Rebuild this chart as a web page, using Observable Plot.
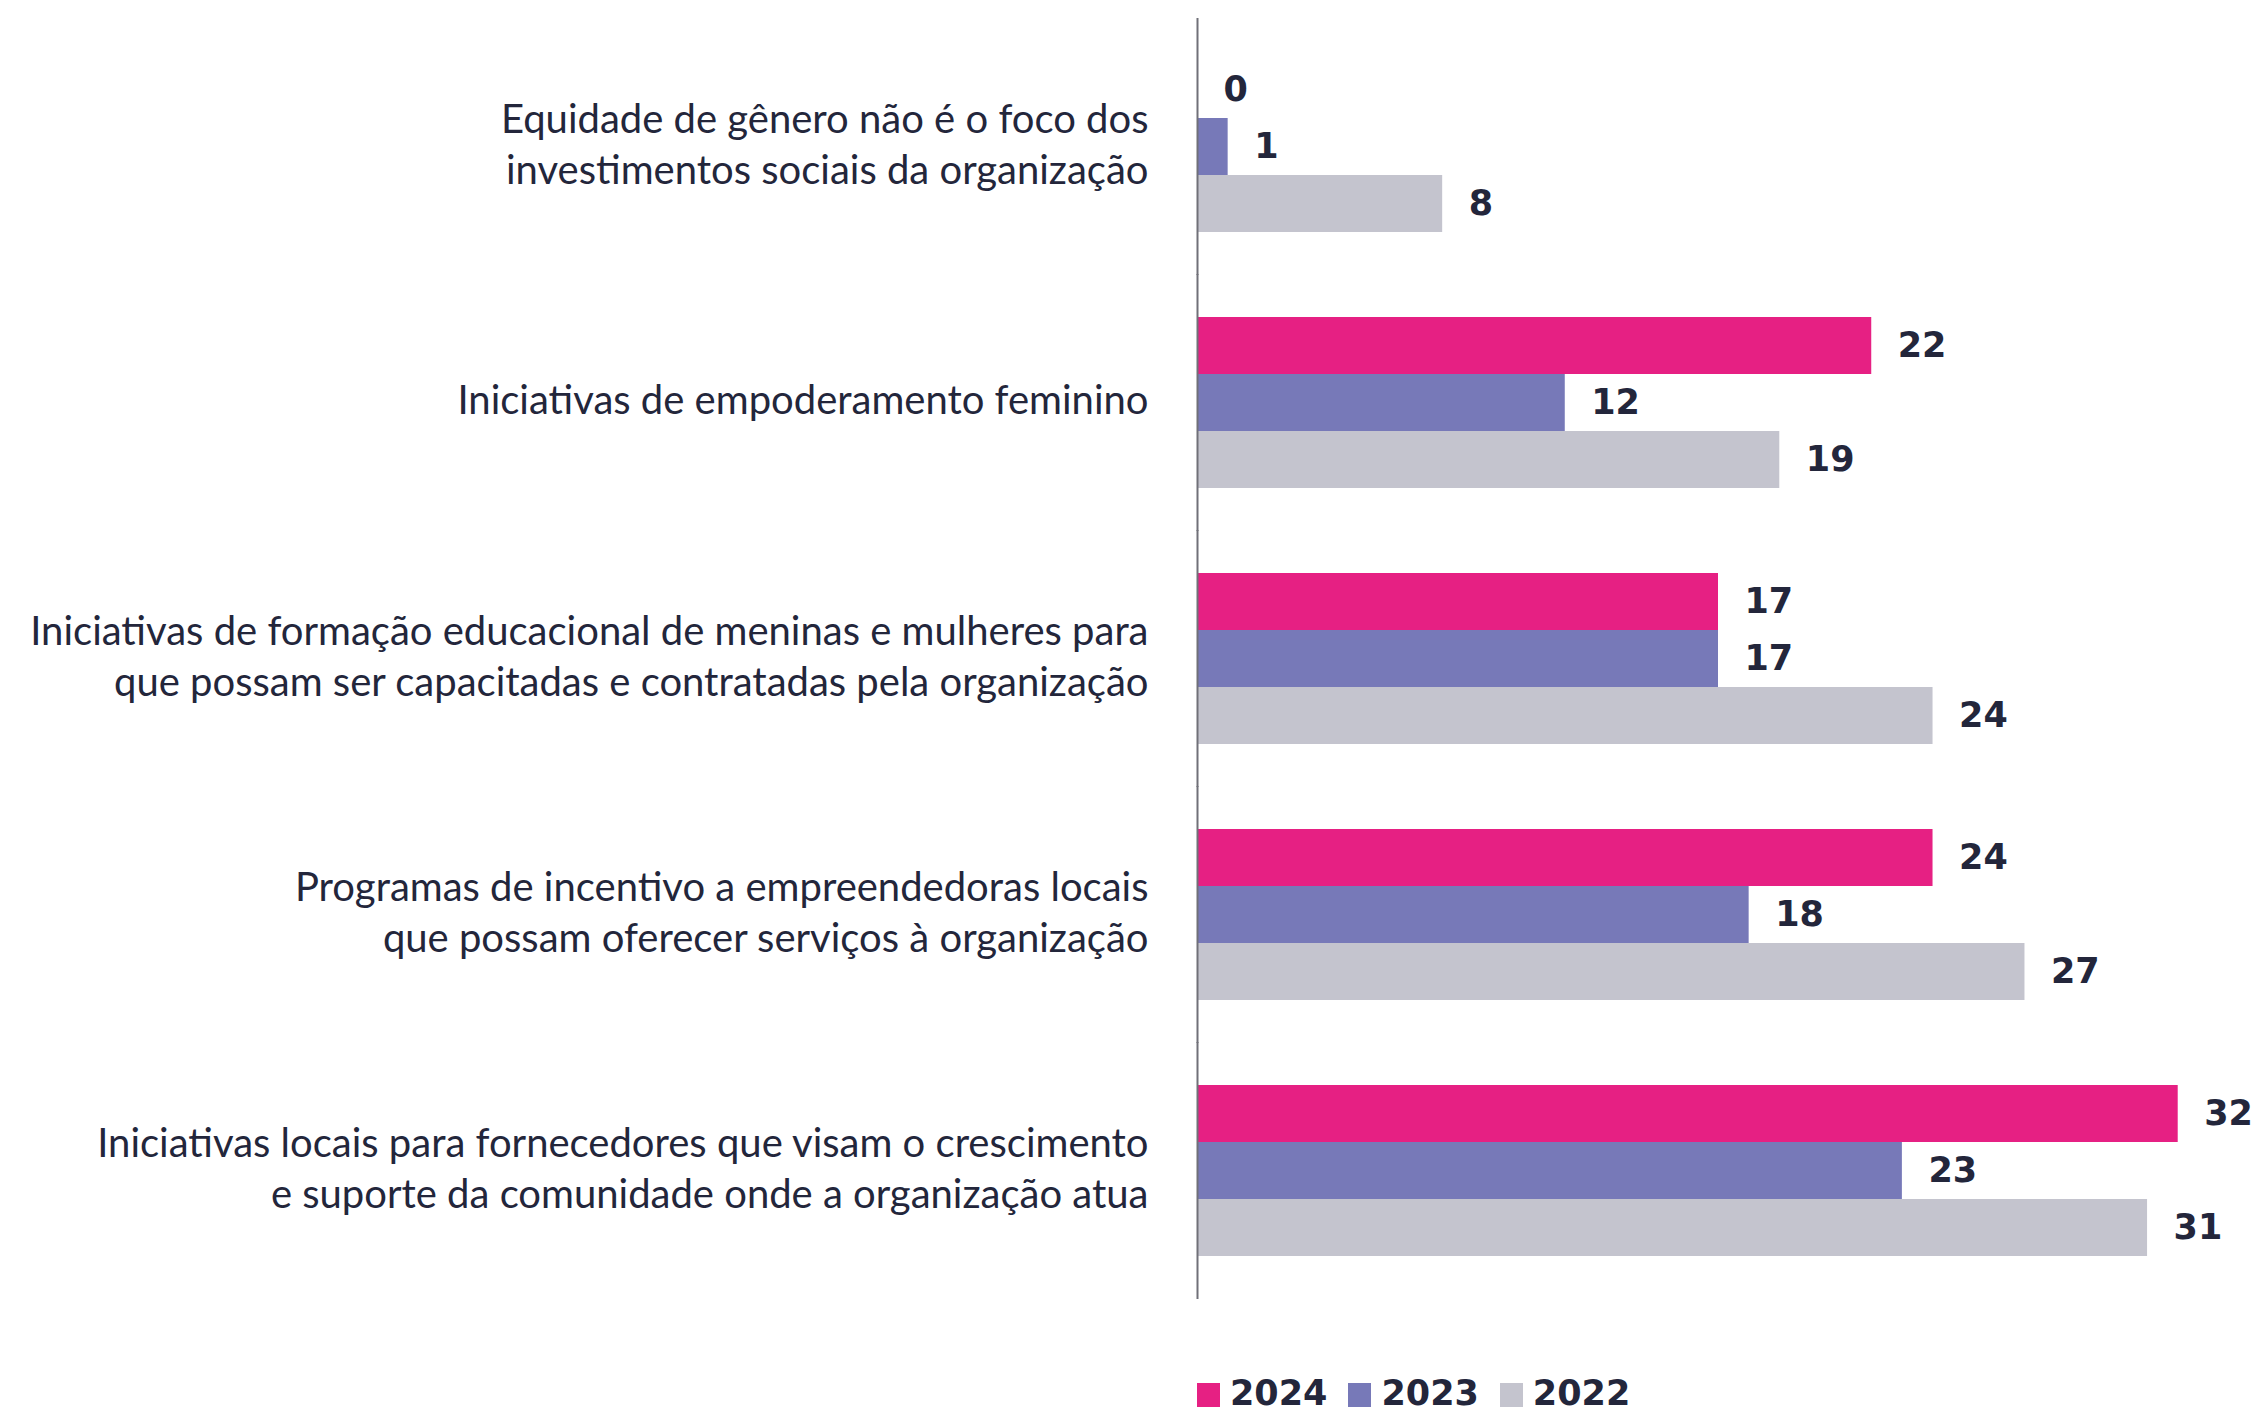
<!DOCTYPE html>
<html><head><meta charset="utf-8">
<script src="https://cdn.jsdelivr.net/npm/d3@7"></script>
<script src="https://cdn.jsdelivr.net/npm/@observablehq/plot@0.6"></script>
<style>
html,body{margin:0;padding:0;background:#fff;overflow:hidden;width:2254px;height:1411px;}
#chart{position:absolute;left:0;top:0;}
#legend{position:absolute;left:1197px;top:1376px;display:flex;align-items:flex-start;font-family:"DejaVu Sans";font-weight:bold;font-size:35px;line-height:35px;color:#23263b;white-space:nowrap;}
#legend .sw{display:inline-block;width:23px;height:24px;margin-top:7px;margin-right:10px;}
#legend .it{display:flex;align-items:flex-start;margin-right:21px;}
</style></head><body>
<div id="chart"></div><div id="legend"></div>
<script>
const categories = [
  "Equidade de gênero não é o foco dos\ninvestimentos sociais da organização",
  "Iniciativas de empoderamento feminino",
  "Iniciativas de formação educacional de meninas e mulheres para\nque possam ser capacitadas e contratadas pela organização",
  "Programas de incentivo a empreendedoras locais\nque possam oferecer serviços à organização",
  "Iniciativas locais para fornecedores que visam o crescimento\ne suporte da comunidade onde a organização atua"
];
const years = ["2024", "2023", "2022"];
const values2024 = [0, 22, 17, 24, 32];
const values2023 = [1, 12, 17, 18, 23];
const values2022 = [8, 19, 24, 27, 31];
const colors = ["#e62083", "#7779b8", "#c4c4ce"];

const series = [values2024, values2023, values2022];
const rows = [];
categories.forEach((c, i) => {
  years.forEach((y, j) => rows.push({cat: c, year: y, value: series[j][i]}));
});

const textColor = "#23263b";
const plot = Plot.plot({
  width: 2254,
  height: 1340,
  marginLeft: 1197,
  marginRight: 15,
  marginTop: 19,
  marginBottom: 42,
  x: {domain: [0, 34], axis: null},
  y: {domain: years, axis: null, padding: 0},
  fy: {domain: categories, axis: null, paddingInner: 0.332, paddingOuter: 0.164},
  color: {domain: years, range: colors},
  marks: [
    Plot.barX(rows, {x: "value", y: "year", fy: "cat", fill: "year"}),
    Plot.ruleX([0], {stroke: "#707078", strokeWidth: 2, insetTop: -43, insetBottom: -43}),
    Plot.text(rows, {x: "value", y: "year", fy: "cat", text: d => String(d.value), dx: 26, textAnchor: "start",
      fontFamily: "DejaVu Sans", fontWeight: "bold", fontSize: 35, fill: textColor}),
    Plot.text(categories, {fy: d => d, frameAnchor: "left", text: d => d, textAnchor: "end", dx: -49, dy: -5,
      fontFamily: "Lato", fontSize: 40, lineHeight: 1.275, fill: textColor})
  ]
});
document.getElementById("chart").appendChild(plot);

const legend = document.getElementById("legend");
years.forEach((y, j) => {
  const it = document.createElement("div");
  it.className = "it";
  const sw = document.createElement("span");
  sw.className = "sw";
  sw.style.background = colors[j];
  it.appendChild(sw);
  const t = document.createElement("span");
  t.textContent = y;
  it.appendChild(t);
  legend.appendChild(it);
});
</script>
</body></html>
